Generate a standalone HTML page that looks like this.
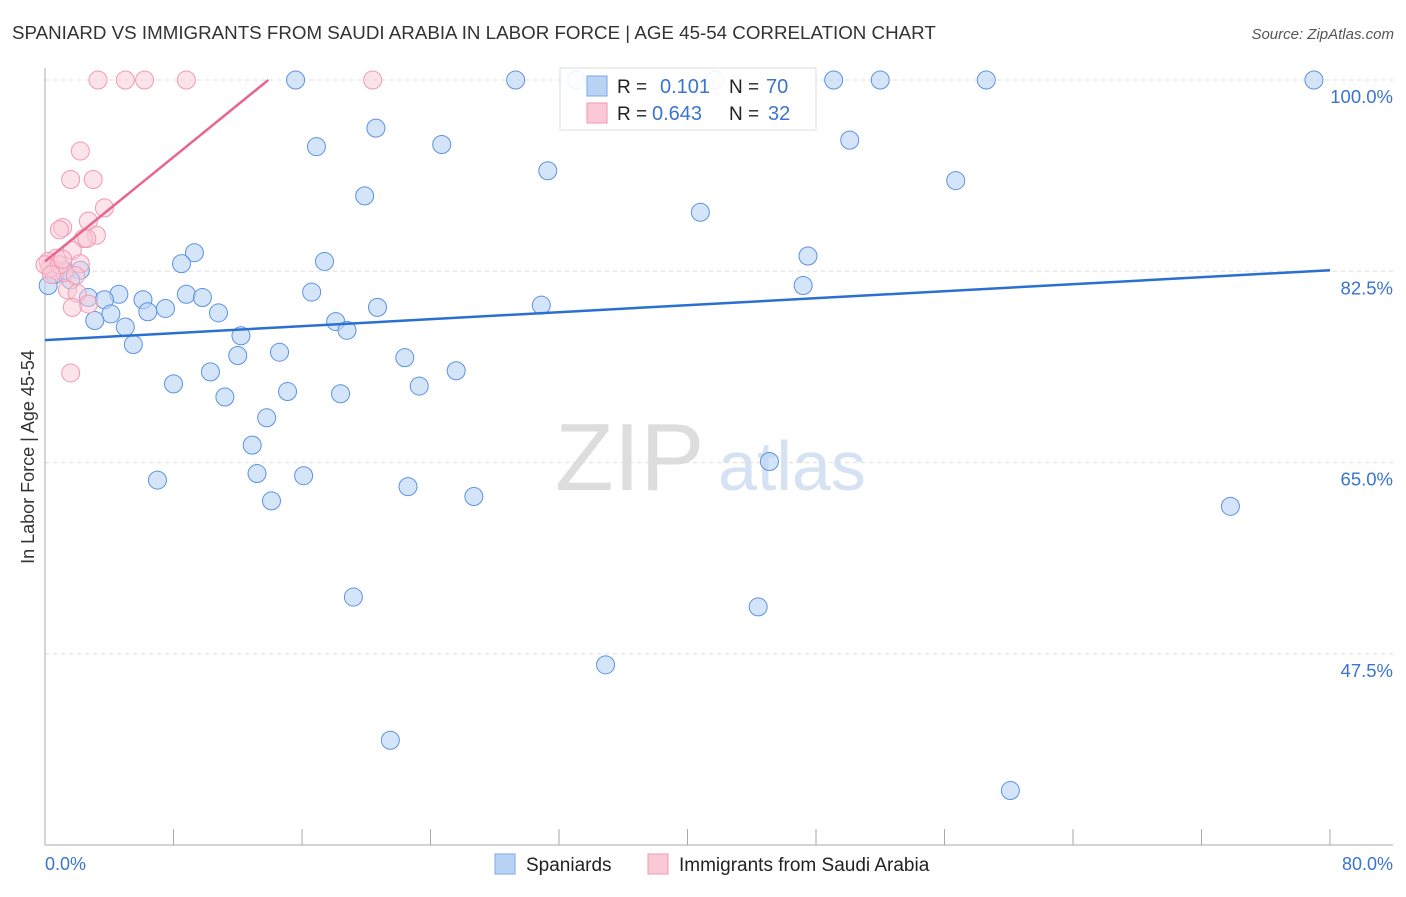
<!DOCTYPE html>
<html><head><meta charset="utf-8"><style>
body{margin:0;background:#fff;font-family:"Liberation Sans",sans-serif}
svg text{font-family:"Liberation Sans",sans-serif}
</style></head><body>
<svg width="1406" height="892" xmlns="http://www.w3.org/2000/svg" id="chart">
<text x="12" y="39" font-size="18.75" fill="#333">SPANIARD VS IMMIGRANTS FROM SAUDI ARABIA IN LABOR FORCE | AGE 45-54 CORRELATION CHART</text>
<text x="1394" y="39" font-size="15" fill="#555" text-anchor="end" font-style="italic">Source: ZipAtlas.com</text>
<text transform="translate(34,457) rotate(-90)" font-size="18" fill="#333" text-anchor="middle">In Labor Force | Age 45-54</text>
<text x="555" y="490" font-size="96" fill="#ddd" font-family="Liberation Serif">ZIP</text>
<text x="718" y="490" font-size="70" fill="#d5e2f3">atlas</text>
<g id="grid"></g><g id="pts"></g><g id="lines"></g>
<g>
<rect x="560" y="68" width="256" height="62" fill="#fff" fill-opacity="0.9" stroke="#ddd"/>
<rect x="587" y="76" width="20" height="20" fill="#b9d3f5" stroke="#7aa8e6"/>
<text x="617" y="93" font-size="19" fill="#222">R = </text><text x="660" y="93" font-size="20" fill="#3a74cf">0.101</text>
<text x="729" y="93" font-size="19" fill="#222">N = </text><text x="766" y="93" font-size="20" fill="#3a74cf">70</text>
<rect x="587" y="103" width="20" height="20" fill="#fbc9d6" stroke="#ef9ab2"/>
<text x="617" y="120" font-size="19" fill="#222">R = </text><text x="652" y="120" font-size="20" fill="#3a74cf">0.643</text>
<text x="729" y="120" font-size="19" fill="#222">N = </text><text x="768" y="120" font-size="20" fill="#3a74cf">32</text>
</g>
<g>
<rect x="495" y="854" width="20" height="20" fill="#b9d3f5" stroke="#7aa8e6"/>
<text x="526" y="871" font-size="19" fill="#222">Spaniards</text>
<rect x="648" y="854" width="20" height="20" fill="#fbc9d6" stroke="#ef9ab2"/>
<text x="679" y="871" font-size="19" fill="#222">Immigrants from Saudi Arabia</text>
</g>
<text x="45" y="870" font-size="18" fill="#3a74cf">0.0%</text>
<text x="1393" y="870" font-size="18" fill="#3a74cf" text-anchor="end">80.0%</text>
</svg>
<script>
const yTicks=[100,82.5,65,47.5];
const yTickLabels=["100.0%","82.5%","65.0%","47.5%"];
const xTicks=[0,8,16,24,32,40,48,56,64,72,80];
const spanX=[15.6,29.3,33.1,41.7,49.1,52.0,58.6,79.0,20.6,16.9,24.7,50.1,31.3,56.7,19.9,40.8,9.3,8.5,17.4,47.5,47.2,2.2,1.6,0.6,0.2,4.6,2.7,3.7,6.1,8.8,9.8,7.5,6.4,4.1,10.8,16.6,20.7,30.9,3.1,5.0,18.1,18.8,12.2,5.5,12.0,14.6,22.4,8.0,10.3,15.1,11.2,18.4,23.3,25.6,13.8,12.9,45.1,13.2,7.0,16.1,14.1,22.6,26.7,73.8,19.2,44.4,34.9,21.5,60.1,1.2];
const spanY=[100,100,100,100,100,100,100,100,95.6,93.9,94.1,94.5,91.7,90.8,89.4,87.9,84.2,83.2,83.4,83.9,81.2,82.6,81.7,82.2,81.2,80.4,80.1,79.9,79.9,80.4,80.1,79.1,78.8,78.6,78.7,80.6,79.2,79.4,78.0,77.4,77.9,77.1,76.6,75.8,74.8,75.1,74.6,72.2,73.3,71.5,71.0,71.3,72.0,73.4,69.1,66.6,65.1,64.0,63.4,63.8,61.5,62.8,61.9,61.0,52.7,51.8,46.5,39.6,35.0,82.6];
const saudiX=[3.3,5.0,6.2,8.8,20.4,2.2,1.6,3.0,3.7,2.7,1.1,0.9,3.2,2.4,2.6,1.7,0.7,0.2,2.2,0.6,1.2,0.3,1.9,1.4,2.0,2.7,1.7,1.6,0,0.9,0.4,1.1];
const saudiY=[100,100,100,100,100,93.5,90.9,90.9,88.3,87.1,86.5,86.3,85.8,85.5,85.5,84.4,83.7,83.4,83.2,82.6,82.4,82.8,82.1,80.8,80.5,79.5,79.2,73.2,83.1,83.1,82.2,83.6];
const spanTrend=[[0,76.2],[80,82.6]];
const saudiTrend=[[0,83.4],[13.9,100]];
const X=v=>45+v/80*1285, Y=v=>80+(100-v)/17.5*191.3;
const NS="http://www.w3.org/2000/svg";
function mk(t,a,p){const e=document.createElementNS(NS,t);for(const k in a)e.setAttribute(k,a[k]);p.appendChild(e);return e;}
const grid=document.getElementById('grid');
yTicks.forEach((t,i)=>{const l=mk('line',{x1:45,x2:1393,y1:Y(t),y2:Y(t),stroke:'#ddd','stroke-dasharray':'4,4'},grid);


const tx=mk('text',{x:1393,y:Y(t)+23,'font-size':18.5,fill:'#3a74cf','text-anchor':'end'},grid);tx.textContent=yTickLabels[i];

});
const ax=mk('line',{x1:45,x2:45,y1:68,y2:845,stroke:'#aaa'},grid);


const bx=mk('line',{x1:45,x2:1393,y1:845,y2:845,stroke:'#aaa'},grid);


xTicks.forEach(t=>{const l=mk('line',{x1:X(t),x2:X(t),y1:829,y2:845,stroke:'#aaa'},grid);

});
const pts=document.getElementById('pts');
spanX.forEach((v,i)=>{const c=mk('circle',{cx:X(v),cy:Y(spanY[i]),r:9,fill:'#b9d3f5','fill-opacity':0.6,stroke:'#5b93e0','stroke-width':1},pts);

});
saudiX.forEach((v,i)=>{const c=mk('circle',{cx:X(v),cy:Y(saudiY[i]),r:9,fill:'#fbc9d6','fill-opacity':0.5,stroke:'#ef9ab2','stroke-width':1},pts);

});
const lines=document.getElementById('lines');
const l1=mk('line',{x1:X(spanTrend[0][0]),y1:Y(spanTrend[0][1]),x2:X(spanTrend[1][0]),y2:Y(spanTrend[1][1]),stroke:'#2a6fd1','stroke-width':2.5},lines);


const l2=mk('line',{x1:X(saudiTrend[0][0]),y1:Y(saudiTrend[0][1]),x2:X(saudiTrend[1][0]),y2:Y(saudiTrend[1][1]),stroke:'#e8658e','stroke-width':2.5},lines);


</script>
</body></html>
